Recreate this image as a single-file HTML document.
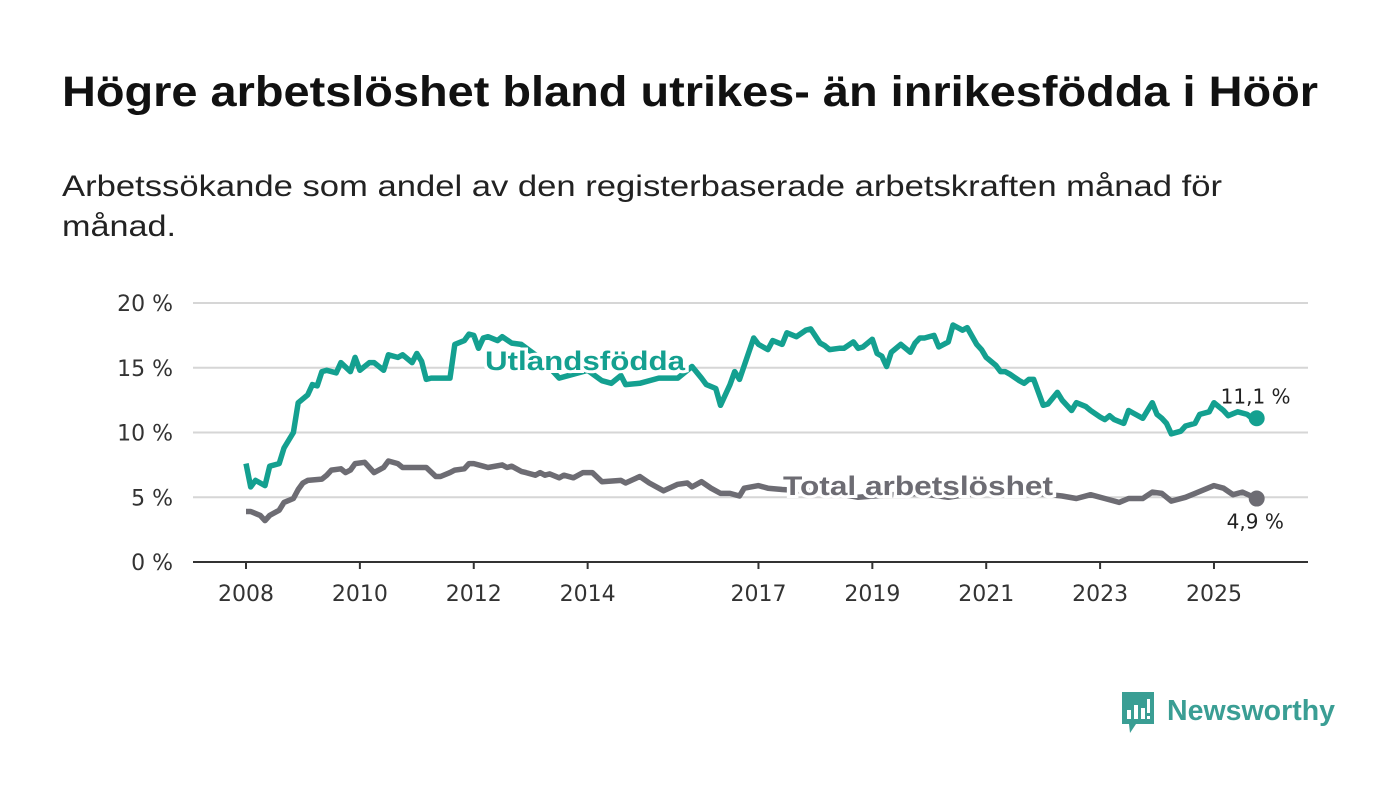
<!DOCTYPE html>
<html><head><meta charset="utf-8"><style>
html,body{margin:0;padding:0;background:#fff;}
svg{display:block;font-family:"Liberation Sans",sans-serif;}
.tk{font-family:"DejaVu Sans",sans-serif;}
</style></head><body>
<svg id="chart" width="1400" height="794" viewBox="0 0 1400 794">
<text x="62" y="106" font-size="43" font-weight="bold" fill="#111" textLength="1256" lengthAdjust="spacingAndGlyphs">Högre arbetslöshet bland utrikes- än inrikesfödda i Höör</text>
<text x="62" y="196" font-size="30" fill="#222" textLength="1160" lengthAdjust="spacingAndGlyphs">Arbetssökande som andel av den registerbaserade arbetskraften månad för</text>
<text x="62" y="236" font-size="30" fill="#222" textLength="114" lengthAdjust="spacingAndGlyphs">månad.</text>
<g id="grid"></g>
<g id="series"></g>
<g id="labels"></g>
<g>
<path d="M1122 692 h32 v32 h-18 l-6 9 l-1 -9 h-7 z" fill="#3a9e94"/>
<rect x="1127" y="710" width="4" height="9" fill="#fff"/><rect x="1134" y="705" width="4" height="14" fill="#fff"/><rect x="1141" y="708" width="4" height="11" fill="#fff"/><rect x="1147" y="699" width="3" height="14" fill="#fff"/><rect x="1147" y="716" width="3" height="3" fill="#fff"/>
<text x="1167" y="720" font-size="29" font-weight="bold" fill="#3a9e94" textLength="168" lengthAdjust="spacingAndGlyphs">Newsworthy</text>
</g>
</svg>
<script>
const yTicks = [0,5,10,15,20];
const xTickYears = [2008,2010,2012,2014,2017,2019,2021,2023,2025];
const utlMonths = [0,1,2,4,5,7,8,10,11,13,14,15,16,17,19,20,22,23,24,26,27,29,30,32,33,35,36,37,38,39,41,43,44,46,47,48,49,50,51,53,54,56,58,61,64,66,69,72,75,77,79,80,83,87,91,94,96,97,99,100,102,103,104,107,108,110,111,113,114,116,118,119,121,122,123,125,126,128,129,130,132,133,134,135,136,138,140,141,142,143,145,146,148,149,151,152,154,155,156,158,159,160,161,163,164,165,166,168,169,171,172,174,175,177,178,180,181,182,183,185,186,187,189,191,192,193,194,195,197,198,200,201,203,204,206,207,209,211,212,213];
const utlValues = [7.6,5.8,6.3,5.9,7.4,7.6,8.8,10.0,12.3,12.9,13.7,13.6,14.7,14.8,14.6,15.4,14.7,15.8,14.8,15.4,15.4,14.8,16.0,15.8,16.0,15.4,16.1,15.5,14.1,14.2,14.2,14.2,16.8,17.1,17.6,17.5,16.5,17.3,17.4,17.1,17.4,16.9,16.8,16.0,15.0,14.2,14.5,14.8,14.0,13.8,14.4,13.7,13.8,14.2,14.2,15.1,14.2,13.7,13.4,12.1,13.7,14.7,14.1,17.3,16.8,16.4,17.1,16.8,17.7,17.4,17.9,18.0,16.9,16.7,16.4,16.5,16.5,17.0,16.5,16.6,17.2,16.1,15.9,15.1,16.2,16.8,16.2,16.9,17.3,17.3,17.5,16.6,17.0,18.3,17.9,18.1,16.8,16.4,15.8,15.2,14.7,14.7,14.5,14.0,13.8,14.1,14.1,12.1,12.2,13.1,12.5,11.7,12.3,12.0,11.7,11.2,11.0,11.3,11.0,10.7,11.7,11.5,11.1,12.3,11.4,11.1,10.7,9.9,10.1,10.5,10.7,11.4,11.6,12.3,11.7,11.3,11.6,11.4,11.1,11.1];
const totMonths = [0,1,3,4,5,7,8,10,11,12,13,16,17,18,20,21,22,23,25,26,27,29,30,32,33,35,37,38,40,41,43,44,46,47,48,50,51,54,55,56,58,59,61,62,63,64,66,67,69,71,73,75,79,80,83,85,88,91,93,94,96,98,100,102,104,105,108,110,113,117,123,129,136,142,148,155,161,167,172,175,178,181,184,186,189,191,193,195,198,200,204,206,208,210,213];
const totValues = [3.9,3.9,3.6,3.2,3.6,4.0,4.6,4.9,5.6,6.1,6.3,6.4,6.7,7.1,7.2,6.9,7.1,7.6,7.7,7.3,6.9,7.3,7.8,7.6,7.3,7.3,7.3,7.3,6.6,6.6,6.9,7.1,7.2,7.6,7.6,7.4,7.3,7.5,7.3,7.4,7.0,6.9,6.7,6.9,6.7,6.8,6.5,6.7,6.5,6.9,6.9,6.2,6.3,6.1,6.6,6.1,5.5,6.0,6.1,5.8,6.2,5.7,5.3,5.3,5.1,5.7,5.9,5.7,5.6,5.5,5.4,5.0,5.2,5.3,5.0,5.4,5.6,5.3,5.1,4.9,5.2,4.9,4.6,4.9,4.9,5.4,5.3,4.7,5.0,5.3,5.9,5.7,5.2,5.4,4.9];

const NS='http://www.w3.org/2000/svg';
const X0=193, X1=1308, Y0=562, PXY=12.95, XBASE=246, PXYR=56.94;
const yScale = v => Y0 - v*PXY;
const xYear = yr => XBASE + (yr-2008)*PXYR;
const xMonth = m => XBASE + m*PXYR/12;
function mk(tag, attrs, parent){const e=document.createElementNS(NS,tag);for(const k in attrs)e.setAttribute(k,attrs[k]);parent.appendChild(e);return e;}
const grid=document.getElementById('grid');
yTicks.forEach(t=>{
  const l=mk('line',{x1:X0,x2:X1,y1:yScale(t),y2:yScale(t),stroke:t===0?'#333':'#d6d6d6','stroke-width':2},grid);
  
  
  const tx=mk('text',{x:173,y:yScale(t)+8,'text-anchor':'end','font-size':22,fill:'#333',class:'tk'},grid);
  tx.textContent=t+' %';
  
  
});
xTickYears.forEach(yr=>{
  const x=xYear(yr);
  const tk=mk('line',{x1:x,x2:x,y1:Y0,y2:Y0+7,stroke:'#333','stroke-width':2},grid);
  
  
  const tx=mk('text',{x:x,y:601,'text-anchor':'middle','font-size':22,fill:'#333',class:'tk'},grid);
  tx.textContent=yr;
  
  
});
const ser=document.getElementById('series');
function line(ms,vs,color,name){
  const d=ms.map((m,i)=>(i?'L':'M')+xMonth(m).toFixed(1)+' '+yScale(vs[i]).toFixed(1)).join(' ');
  const p=mk('path',{d:d,fill:'none',stroke:color,'stroke-width':5.5,'stroke-linejoin':'round'},ser);
  
  
  const n=ms.length-1;
  const c=mk('circle',{cx:xMonth(ms[n]),cy:yScale(vs[n]),r:8,fill:color},ser);
  
  
  return [xMonth(ms[n]),yScale(vs[n]),vs[n]];
}
const eU=line(utlMonths,utlValues,'#14a090','utlandsfodda');
const eT=line(totMonths,totValues,'#6d6c73','total');
const lab=document.getElementById('labels');
function txt(s,attrs,name){const t=mk('text',attrs,lab);t.textContent=s;return t;}
txt('Utlandsfödda',{x:485,y:370,'font-size':27,'font-weight':'bold',fill:'#14a090',stroke:'#fff','stroke-width':6,'paint-order':'stroke',textLength:200,lengthAdjust:'spacingAndGlyphs'},'series-label-utlandsfodda');
txt('Total arbetslöshet',{x:783,y:495,'font-size':27,'font-weight':'bold',fill:'#6d6c73',stroke:'#fff','stroke-width':6,'paint-order':'stroke',textLength:270,lengthAdjust:'spacingAndGlyphs'},'series-label-total');
txt(eU[2].toFixed(1).replace('.',',')+' %',{x:eU[0]-36,y:eU[1]-15,'font-size':20,fill:'#222',stroke:'#fff','stroke-width':4,'paint-order':'stroke',class:'tk'},'end-value-utlandsfodda');
txt(eT[2].toFixed(1).replace('.',',')+' %',{x:eT[0]-30,y:eT[1]+30,'font-size':20,fill:'#222',stroke:'#fff','stroke-width':4,'paint-order':'stroke',class:'tk'},'end-value-total');
</script>
</body></html>
